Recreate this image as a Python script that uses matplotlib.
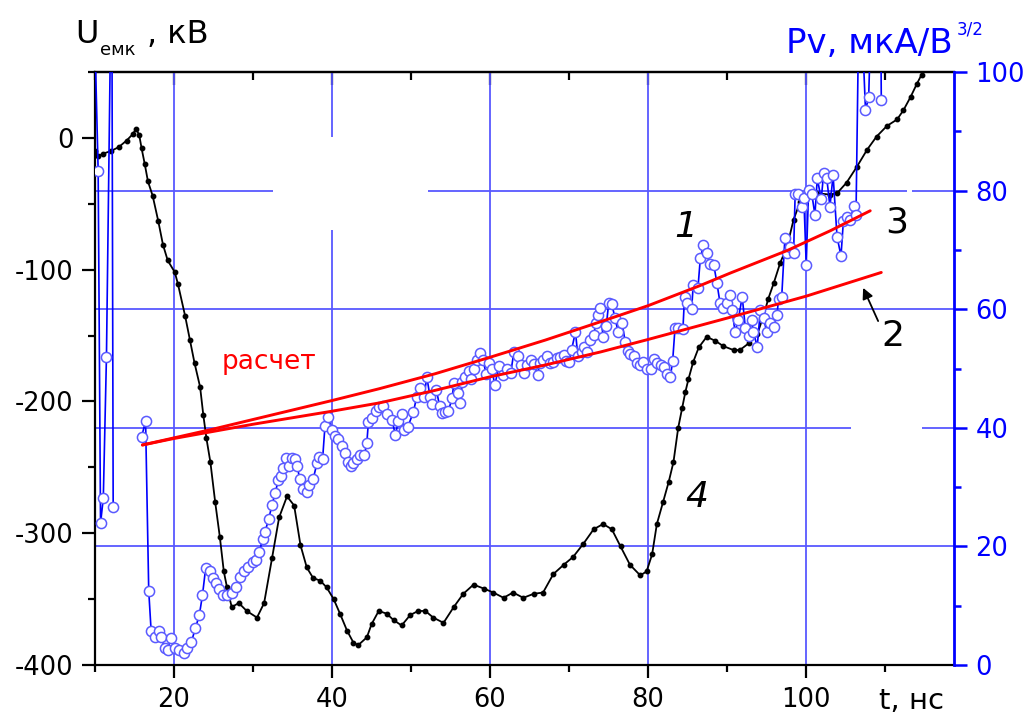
import numpy as np
import matplotlib
matplotlib.use("Agg")
import matplotlib.pyplot as plt
from matplotlib.ticker import MultipleLocator, FixedLocator

plt.rcParams['font.family'] = ['DejaVu Sans']
plt.rcParams['axes.unicode_minus'] = False

# --- curve 4: capacitor voltage U, kV ---
t_u = [10.0, 10.4, 11.0, 12.0, 13.0, 14.0, 14.8, 15.2, 15.6, 15.9, 16.3, 16.7, 17.3,
       18.0, 18.6, 19.2, 20.1, 20.5, 21.4, 22.0, 22.6, 23.3, 23.7, 24.1, 24.6, 25.2,
       25.8, 26.3, 26.7, 27.3, 28.2, 29.2, 30.5, 31.4, 32.4, 33.3, 34.3, 35.2, 36.0,
       36.8, 37.6, 38.5, 39.3, 40.2, 41.0, 41.9, 42.7, 43.3, 44.4, 45.0, 45.9, 46.9,
       47.8, 48.8, 49.9, 50.9, 51.8, 52.8, 54.1, 55.4, 56.6, 57.9, 59.2, 60.4, 61.7,
       62.9, 64.2, 65.5, 66.7, 68.0, 69.3, 70.5, 71.8, 73.1, 74.3, 75.4, 76.5, 77.7,
       79.0, 79.8, 80.5, 81.1, 81.9, 82.6, 83.2, 83.8, 84.3, 84.7, 85.1, 85.7, 86.4,
       87.4, 88.5, 89.5, 90.8, 91.6, 92.7, 93.8, 94.6, 95.2, 95.9, 96.7, 97.6, 98.4,
       99.2, 100.1, 101.3, 103.0, 103.9, 105.1, 106.4, 107.7, 108.9, 110.2, 111.5,
       112.3, 113.2, 114.0, 114.6]
u_kv = [-10, -14, -12, -10, -7, -2, 3, 7, 2, -8, -20, -33, -44,
        -63, -81, -93, -102, -111, -135, -153, -171, -189, -210, -228, -246, -276,
        -303, -329, -341, -356, -353, -359, -364, -353, -319, -288, -272, -279, -309,
        -326, -334, -336, -341, -350, -361, -374, -383, -385, -379, -369, -359, -361,
        -366, -370, -362, -359, -359, -364, -368, -356, -346, -339, -342, -345, -349,
        -345, -349, -346, -345, -331, -324, -318, -308, -297, -293, -297, -310, -324,
        -332, -329, -316, -293, -276, -261, -246, -220, -205, -193, -183, -170, -159,
        -151, -154, -158, -161, -161, -156, -149, -135, -122, -110, -95, -82, -62,
        -49, -42, -42, -43, -42, -34, -22, -9, 1, 9, 14,
        21, 31, 41, 48]

# --- curve 1: measured perveance Pv, uA/V^3/2 (values above 100 run off scale) ---
t_pv = [10.0, 10.4, 10.7, 11.05, 11.45, 11.95, 12.15, 12.3, 13.0,
        15.9, 16.4, 16.8, 17.1, 17.6, 18.1, 18.4, 18.8, 19.2, 19.6, 20.1, 20.6, 21.2,
        21.6, 22.2, 22.7, 23.2, 23.6, 24.0, 24.5, 24.9, 25.3, 25.7, 26.2, 26.7, 27.3,
        27.8, 28.4, 28.8, 29.4, 30.0, 30.4, 30.8, 31.2, 31.5, 32.0, 32.4, 32.8, 33.2,
        33.6, 33.8, 34.2, 34.5, 34.9, 35.3, 35.6, 35.9, 36.3, 36.8, 37.1, 37.6, 38.1,
        38.4, 38.8, 39.1, 39.5, 40.0, 40.4, 40.8, 41.2, 41.6, 42.0, 42.4, 42.7, 43.1,
        43.5, 44.1, 44.4, 44.6, 45.1, 45.6, 46.0, 46.5, 46.9, 47.6, 48.0, 48.4, 48.8,
        49.1, 49.6, 50.3, 50.7, 51.1, 51.6, 52.0, 52.4, 52.7, 53.2, 53.6, 53.9, 54.3,
        54.7, 55.2, 55.4, 55.9, 56.2, 56.5, 56.8, 57.3, 57.6, 58.0, 58.4, 58.7, 59.1,
        59.5, 59.9, 60.2, 60.6, 61.1, 61.6, 62.1, 62.6, 63.0, 63.5, 63.9, 64.3, 64.7,
        65.2, 65.6, 66.0, 66.3, 66.7, 67.2, 67.6, 68.0, 68.4, 68.9, 69.3, 69.6, 70.0,
        70.3, 70.8, 71.1, 71.6, 71.9, 72.3, 72.7, 73.1, 73.4, 73.7, 73.9, 74.3, 74.7,
        75.0, 75.4, 75.8, 76.2, 76.7, 77.1, 77.4, 77.7, 78.2, 78.6, 79.0, 79.4, 79.8,
        80.3, 80.7, 81.1, 81.6, 82.0, 82.4, 82.8, 83.1, 83.4, 83.8, 84.4, 84.6, 84.9,
        85.5, 85.7, 86.3, 86.6, 87.0, 87.4, 87.8, 88.3, 88.7, 89.1, 89.5, 90.0, 90.4,
        90.6, 91.0, 91.4, 91.9, 92.3, 92.7, 93.1, 93.3, 93.8, 94.2, 94.6, 95.0, 95.4,
        95.9, 96.3, 96.5, 96.9, 97.3, 97.6, 98.0, 98.4, 98.6, 99.0, 99.5, 99.7, 100.0,
        100.3, 100.7, 101.1, 101.4, 101.9, 102.2, 102.6, 103.0, 103.4, 103.9, 104.4,
        104.7, 105.1, 105.6, 106.0, 106.3, 106.65, 107.15, 107.5, 107.9, 108.1, 109.45,
        109.5]
pv = [105, 83.3, 23.9, 28.1, 52.0, 105, 105, 26.7, np.nan,
      38.5, 41.1, 12.5, 5.8, 4.8, 5.8, 4.8, 2.8, 2.6, 4.5, 2.8, 2.6, 2.1,
      2.8, 3.9, 6.2, 8.4, 11.8, 16.3, 15.9, 14.7, 13.9, 12.9, 11.8, 11.8, 12.1,
      13.2, 14.9, 15.9, 16.6, 17.4, 17.7, 19.1, 21.2, 22.4, 24.7, 27.0, 29.0, 31.2,
      31.8, 33.2, 34.9, 33.6, 34.9, 34.8, 33.6, 31.3, 29.6, 29.1, 30.4, 31.3, 34.1,
      35.0, 34.7, 40.3, 41.8, 39.6, 38.6, 38.1, 36.9, 35.7, 34.3, 33.6, 34.1, 34.7,
      35.4, 35.4, 37.5, 41.0, 41.6, 42.9, 43.5, 43.6, 42.4, 41.3, 38.8, 41.1, 42.4,
      39.6, 40.2, 42.7, 45.2, 46.7, 45.2, 48.5, 45.2, 44.0, 46.4, 43.7, 42.5, 42.7,
      42.8, 45.0, 47.5, 45.8, 44.2, 47.8, 48.6, 49.5, 48.3, 49.9, 51.4, 52.6, 51.4,
      49.1, 50.9, 49.9, 47.2, 50.4, 48.9, 49.9, 49.2, 52.7, 52.1, 50.6, 49.2, 50.6,
      51.4, 50.8, 48.9, 51.0, 51.4, 52.1, 50.9, 51.1, 51.7, 52.0, 52.3, 51.3, 51.1,
      53.1, 56.2, 52.1, 52.8, 53.7, 52.8, 54.8, 55.6, 57.7, 59.0, 60.2, 55.3, 57.2,
      61.0, 60.9, 58.5, 56.2, 57.7, 54.4, 53.0, 52.4, 52.1, 50.9, 50.6, 51.1, 49.9,
      49.9, 51.6, 51.0, 50.6, 50.3, 49.1, 48.5, 51.3, 56.9, 56.9, 56.7, 62.1, 61.0,
      60.0, 64.1, 63.6, 68.6, 70.8, 69.5, 67.6, 67.5, 64.4, 61.0, 60.2, 61.0, 62.4,
      59.9, 56.2, 58.2, 62.1, 56.8, 55.4, 58.2, 56.2, 53.7, 59.9, 58.5, 56.2, 57.6,
      57.0, 59.0, 61.8, 62.1, 72.0, 69.4, 70.5, 69.4, 79.5, 79.5, 77.3, 78.7, 67.5,
      80.1, 79.5, 75.9, 82.1, 78.5, 82.9, 82.1, 77.3, 82.6, 72.2, 69.0,
      74.8, 75.6, 75.0, 77.4, 75.9, 110, 105, 93.6, 95.7, 105, 105,
      95.3]

# --- calculated perveance, curves 3 (upper) and 2 (lower) ---
t_calc3 = [16.0, 20.0, 25.0, 30.0, 35.0, 40.0, 46.0, 53.0, 60.0, 67.0, 74.0, 80.0,
           86.6, 90.4, 97.6, 103.0, 108.1]
pv_calc3 = [37.1, 38.3, 39.8, 41.4, 43.0, 44.6, 46.6, 49.1, 51.9, 54.8, 57.9, 60.6,
            64.0, 66.1, 69.9, 73.2, 76.6]
t_calc2 = [16.0, 20.0, 25.0, 30.0, 35.0, 40.0, 46.0, 53.0, 60.0, 67.0, 74.0, 80.0,
           90.0, 100.0, 109.5]
pv_calc2 = [37.1, 38.2, 39.4, 40.6, 41.7, 42.8, 44.2, 46.3, 48.6, 50.6, 52.8, 54.9,
            58.5, 62.2, 66.2]

x_ticks = [20, 40, 60, 80, 100]
u_ticks = [-400, -300, -200, -100, 0]
pv_ticks = [0, 20, 40, 60, 80, 100]

W, H = 1031, 713
fig = plt.figure(figsize=(W / 100, H / 100), dpi=100)
ax = fig.add_axes([95 / W, 1 - 665 / H, (954 - 95) / W, (665 - 72) / H])
ax2 = ax.twinx()

ax.set_xlim(10, 118.7)
ax.set_ylim(-400, 50)
ax2.set_ylim(0, 100)

BLUE = '#0000ff'
GRID = '#5858ff'
TICK_FS = 18.5

# grid lines (drawn on the lower axes so every curve sits above them)
gkw = dict(color=GRID, lw=1.3, zorder=0.5, solid_capstyle='butt')
for xv in x_ticks:
    if xv == 40:
        ax.plot([xv, xv], [0, 73.4], transform=ax2.transData, **gkw)
        ax.plot([xv, xv], [89.0, 100], transform=ax2.transData, **gkw)
    else:
        ax.plot([xv, xv], [0, 100], transform=ax2.transData, **gkw)
h_segments = {20: [(10, 118.7)], 40: [(10, 105.7), (114.7, 118.7)],
              60: [(10, 118.7)], 80: [(10, 32.5), (52.2, 112.8), (113.4, 118.7)]}
for yv, segs in h_segments.items():
    for x0, x1 in segs:
        ax.plot([x0, x1], [yv, yv], transform=ax2.transData, **gkw)

# curve 4
ax.plot(t_u, u_kv, color='black', lw=1.3, marker='o', ms=3.2, zorder=3)

# curve 1 and calculated curves
ax2.plot(t_pv, pv, color=BLUE, lw=1.2, marker='o', ms=7.3, mfc='white',
         mec='#5a5aff', mew=1.1, zorder=3)
ax2.plot(t_calc3, pv_calc3, color='#ff0000', lw=2.1, zorder=4, solid_capstyle='round')
ax2.plot(t_calc2, pv_calc2, color='#ff0000', lw=2.1, zorder=4, solid_capstyle='round')

# axis styling
for sp in ['left', 'bottom', 'top']:
    ax.spines[sp].set_linewidth(1.6)
ax.spines['right'].set_visible(False)
for sp in ['left', 'bottom', 'top']:
    ax2.spines[sp].set_visible(False)
ax2.spines['right'].set_color(BLUE)
ax2.spines['right'].set_linewidth(2.0)

ax.xaxis.set_major_locator(FixedLocator(x_ticks))
ax.xaxis.set_minor_locator(MultipleLocator(10))
ax.yaxis.set_major_locator(FixedLocator(u_ticks))
ax.yaxis.set_minor_locator(MultipleLocator(50))
ax.tick_params(axis='both', which='major', direction='out', length=9.5, width=1.6,
               labelsize=TICK_FS, pad=6)
ax.tick_params(axis='both', which='minor', direction='out', length=5, width=1.6)
ax.tick_params(axis='y', which='both', right=False)
ax.tick_params(axis='x', which='both', top=False)
ax.set_xticklabels([str(v) for v in x_ticks])
ax.set_yticklabels([str(v) for v in u_ticks])

ax2.yaxis.set_major_locator(FixedLocator(pv_ticks))
ax2.yaxis.set_minor_locator(MultipleLocator(10))
ax2.tick_params(axis='y', which='major', direction='out', length=9.5, width=1.8,
                colors=BLUE, labelsize=TICK_FS, pad=6)
ax2.tick_params(axis='y', which='minor', direction='out', length=5, width=1.8, colors=BLUE)
ax2.set_yticklabels([str(v) for v in pv_ticks])

top = ax.secondary_xaxis('top')
top.xaxis.set_major_locator(FixedLocator(x_ticks))
top.xaxis.set_minor_locator(MultipleLocator(10))
top.tick_params(which='major', direction='in', length=9.5, width=1.6, labeltop=False)
top.tick_params(which='minor', direction='in', length=6, width=1.6)
top.spines['top'].set_linewidth(1.6)


def px(x, y):
    return x / W, 1 - y / H


# axis titles
fig.text(*px(75, 43), 'U', fontsize=23, va='baseline', ha='left')
fig.text(*px(100, 55), 'емк', fontsize=13, va='baseline', ha='left')
fig.text(*px(147, 43), ', кВ', fontsize=23, va='baseline', ha='left')
fig.text(*px(786, 53), 'Pv, мкA/B', fontsize=24.5, va='baseline', ha='left', color=BLUE)
fig.text(*px(957, 35), '3/2', fontsize=12, va='baseline', ha='left', color=BLUE)
fig.text(*px(879, 709), 't, нс', fontsize=21, va='baseline', ha='left')

# curve annotations
ax2.text(84.7, 73.9, '1', fontsize=26, style='italic', ha='center', va='center')
ax2.text(111.4, 74.7, '3', fontsize=26, ha='center', va='center')
ax2.text(111.0, 55.5, '2', fontsize=26, ha='center', va='center')
ax2.text(86.2, 28.3, '4', fontsize=26, style='italic', ha='center', va='center')
ax2.text(32.0, 51.1, 'расчет', fontsize=19, color='#ff0000', ha='center', va='center')
ax2.annotate('', xy=(107.2, 63.6), xytext=(109.1, 58.0),
             arrowprops=dict(arrowstyle='-|>', color='black', lw=1.3,
                             mutation_scale=16, shrinkA=0, shrinkB=0))

fig.savefig('out.png', dpi=100)
